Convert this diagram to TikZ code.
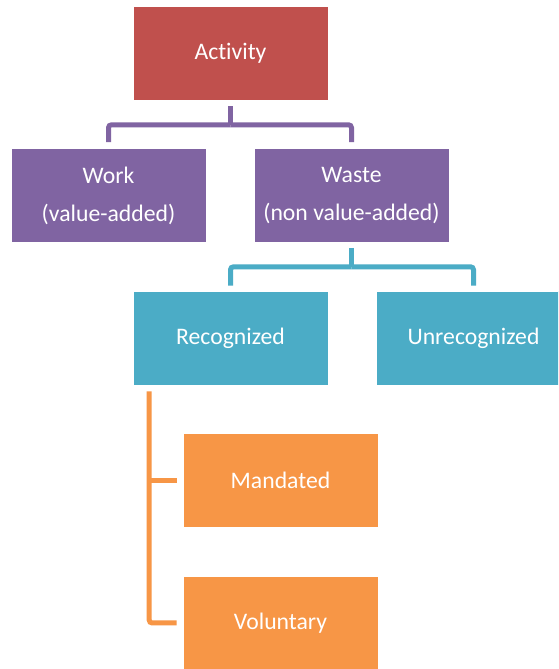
\documentclass[tikz,border=0pt]{standalone}
\usepackage{fontspec}
\setmainfont{Carlito}[Ligatures=NoCommon]
\definecolor{cred}{HTML}{C0504D}
\definecolor{cpurple}{HTML}{8064A2}
\definecolor{cteal}{HTML}{4BACC6}
\definecolor{corange}{HTML}{F79646}
\begin{document}
\begin{tikzpicture}[x=1pt,y=1pt,
  box/.style={draw=white, line width=0.6pt, minimum width=195pt, minimum height=94pt,
    inner sep=0pt, text=white, align=center,
    font=\fontsize{23.7}{38}\selectfont},
  conn/.style={line width=5pt, rounded corners=3pt}]
\clip (0,0) rectangle (558,669);
\fill[white] (0,0) rectangle (558,669);
\node[box, fill=cred] (act) at (230.5,616) {Activity};
\node[box, fill=cpurple] (work) at (108.5,473.5) {Work\\(value-added)};
\node[box, fill=cpurple] (waste) at (351.5,473.5) {Waste\\(non value-added)};
\node[box, fill=cteal] (rec) at (230.5,331) {Recognized};
\node[box, fill=cteal] (unrec) at (473.5,331) {Unrecognized};
\node[box, fill=corange] (mand) at (280.5,188.5) {Mandated};
\node[box, fill=corange] (vol) at (280.5,46) {Voluntary};
% purple connector
\draw[conn, draw=cpurple] ([yshift=-6pt]act.south) -- ++(0,-18.5) coordinate (pj);
\draw[conn, draw=cpurple] (pj) -| ([yshift=6pt]work.north);
\draw[conn, draw=cpurple] (pj) -| ([yshift=6pt]waste.north);
% teal connector
\draw[conn, draw=cteal] ([yshift=-5pt]waste.south) -- ++(0,-19) coordinate (tj);
\draw[conn, draw=cteal] (tj) -| ([yshift=5pt]rec.north);
\draw[conn, draw=cteal] (tj) -| ([yshift=5pt]unrec.north);
% orange connector
\coordinate (os) at ([xshift=16.5pt,yshift=-6pt]rec.south west);
\draw[conn, draw=corange] (os) |- ([xshift=-6pt]vol.west);
\draw[conn, draw=corange] ([xshift=-6pt]mand.west) -- (mand.west -| os);
\end{tikzpicture}
\end{document}
